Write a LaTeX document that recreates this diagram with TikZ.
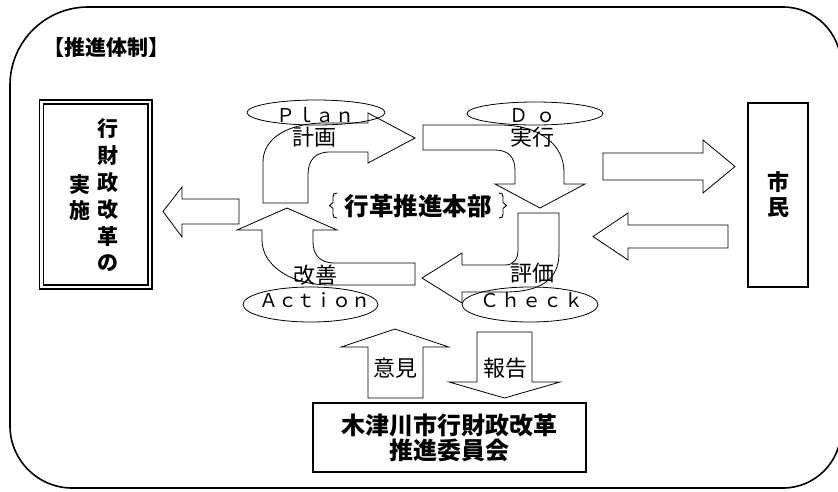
\documentclass[tikz,border=0pt]{standalone}
\usepackage{fontspec}
\setmainfont{Liberation Sans}
\newfontfamily\jp{Noto Sans CJK JP}
\usetikzlibrary{shapes.geometric}
\tikzset{
  arr/.style={draw=black, line width=0.8pt},
  ell/.style={draw=black, ellipse, line width=0.8pt, inner sep=0pt},
  lab/.style={font=\jp\fontsize{22}{24}\selectfont, inner sep=0pt},
  latin/.style={font=\jp\fontsize{19}{20}\selectfont, inner sep=0pt, anchor=base},
  boldlab/.style={font=\jp\bfseries\fontsize{24.5}{25}\selectfont, inner sep=0pt},
  brace/.style={draw=black, line width=0.9pt}
}
\begin{document}
\begin{tikzpicture}[x=1pt,y=-1pt]
\useasboundingbox (0,0) rectangle (838,491);
% outer frame
\draw[line width=1.6pt] (10,85) .. controls (10,42) and (45,7) .. (88,7)
  -- (783,7) .. controls (815,7) and (841,33) .. (841,65)
  -- (841,430) .. controls (841,462) and (815,488) .. (783,488)
  -- (72,488) .. controls (38,488) and (10,460) .. (10,426) -- cycle;
% title
\node[font=\jp\bfseries\fontsize{21}{21}\selectfont, inner sep=0pt] (title) at (106,47.5) {【推進体制】};
% left box
\node[draw, double, line width=1.2pt, double distance=2.8pt, minimum width=108.5pt, minimum height=185pt, inner sep=0pt] (jisshi) at (95.75,194.5) {};
\node[font=\jp\bfseries\fontsize{21}{26.8}\selectfont, align=center, inner sep=0pt] (colA) at (107.5,195.5) {行\\財\\政\\改\\革\\の};
\node[font=\jp\bfseries\fontsize{21}{26.8}\selectfont, align=center, inner sep=0pt] (colB) at (80,197.5) {実\\施};
% shimin box
\node[draw, line width=1.4pt, minimum width=60pt, minimum height=184pt, inner sep=0pt, align=center, font=\jp\bfseries\fontsize{22}{25}\selectfont] (shimin) at (778,195) {市\\民};
% committee box
\node[draw, line width=2pt, minimum width=273pt, minimum height=69pt, inner sep=0pt, align=center, font=\jp\bfseries\fontsize{24}{25}\selectfont] (iinkai) at (449.5,437.5) {木津川市行財政改革\\推進委員会};
% cycle arrows
\draw[arr] (263,203) -- (263,162) .. controls (263,137) and (290,123) .. (325,123) -- (368,123) -- (368,113) -- (415,138) -- (368,163) -- (368,152) -- (330,152) .. controls (315,152) and (308,160) .. (308,175) -- (308,203) -- cycle;
\draw[arr] (423,125) -- (500,125) .. controls (540,125) and (564,145) .. (564,172) -- (564,184) -- (585,184) -- (540,208) -- (495,184) -- (515,184) -- (515,170) .. controls (515,157) and (508,150) .. (495,150) -- (423,150) -- cycle;
\draw[arr] (518,213) -- (559,213) -- (559,253) .. controls (559,280) and (540,292) .. (505,292) -- (462,292) -- (462,303) -- (422,278) -- (462,253) -- (462,265) -- (505,265) .. controls (514,265) and (518,259) .. (518,250) -- cycle;
\draw[arr] (415,263) -- (335,263) .. controls (320,263) and (313,255) .. (313,242) -- (313,230) -- (337,230) -- (287,208) -- (237,230) -- (262,230) -- (262,240) .. controls (262,265) and (290,285) .. (330,285) -- (415,285) -- cycle;
% side arrows
\draw[arr] (239,199) -- (182,199) -- (182,187) -- (163,211.5) -- (182,237) -- (182,224) -- (239,224) -- cycle;
\draw[arr] (603,153) -- (703,153) -- (703,140) -- (735,166.5) -- (703,193) -- (703,180) -- (603,180) -- cycle;
\draw[arr] (728,225) -- (628,225) -- (628,213) -- (593,236.5) -- (628,260) -- (628,248) -- (728,248) -- cycle;
\draw[arr] (368,398) -- (368,347) -- (341,347) -- (395,329) -- (449,347) -- (423,347) -- (423,398) -- cycle;
\draw[arr] (477,332) -- (532,332) -- (532,382) -- (560,382) -- (504.5,398) -- (449,382) -- (477,382) -- cycle;
% ellipses
\node[ell, minimum width=138pt, minimum height=25pt] (planE) at (316,112.5) {};
\node[ell, minimum width=136pt, minimum height=23pt] (doE) at (535,113.5) {};
\node[ell, minimum width=135pt, minimum height=35pt] (actE) at (310.5,304.5) {};
\node[ell, minimum width=136pt, minimum height=35pt] (chkE) at (530,304.5) {};
\node[latin] (planT) at (315.5,122) {Ｐ\kern0.5ptｌ\kern0.5ptａ\kern0.5ptｎ};
\node[latin] (doT) at (532,122) {Ｄ\kern8ptｏ};
\node[latin] (actT) at (315,307) {Ａ\kern-0.7ptｃ\kern-0.7ptｔ\kern-0.7ptｉ\kern-0.7ptｏ\kern-0.7ptｎ};
\node[latin] (chkT) at (532,307) {Ｃ\kern2ptｈ\kern2ptｅ\kern2ptｃ\kern2ptｋ};
% japanese labels
\node[lab] (keikaku) at (314.5,137.5) {計画};
\node[lab] (jikko) at (532.5,137) {実行};
\node[lab] (hyoka) at (532.5,273) {評価};
\node[lab] (kaizen) at (315,275) {改善};
\node[lab] (iken) at (395,368) {意見};
\node[lab] (hokoku) at (505,368) {報告};
% honbu label with braces
\node[boldlab] (honbu) at (418,206) {行革推進本部};
\draw[brace] (337,193) .. controls (334,193) and (333,194) .. (333,197) -- (333,202.5) -- (329.5,205.5) -- (333,208.5) -- (333,214) .. controls (333,217) and (334,218) .. (337,218);
\draw[brace] (499,193) .. controls (502,193) and (503,194) .. (503,197) -- (503,202.5) -- (506.5,205.5) -- (503,208.5) -- (503,214) .. controls (503,217) and (502,218) .. (499,218);
\end{tikzpicture}
\end{document}
